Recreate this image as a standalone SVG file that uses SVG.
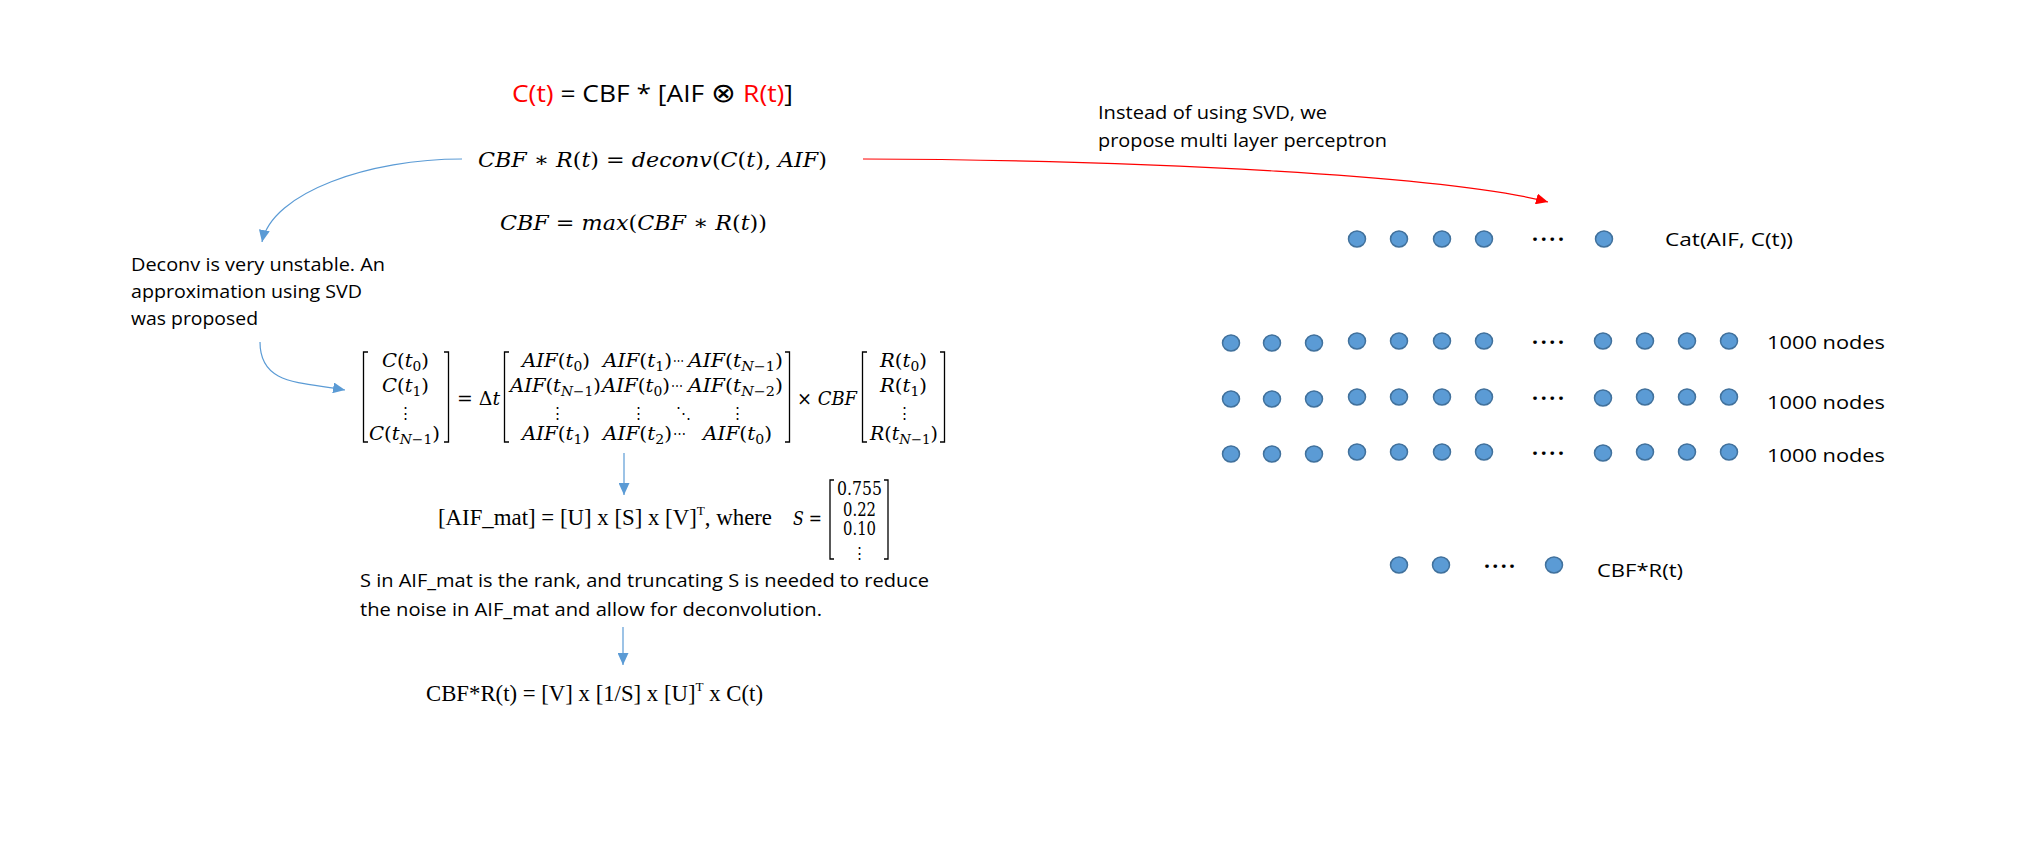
<svg xmlns="http://www.w3.org/2000/svg" width="2025" height="859" viewBox="0 0 2025 859">
<style>
.sans{font-family:"Open Sans","Liberation Sans",sans-serif;font-size:18.5px;fill:#000}
.eq1{font-family:"Open Sans","Liberation Sans",sans-serif;font-size:24px;fill:#000}
.tm{font-family:"Liberation Serif","Times New Roman",serif;font-size:22.5px;fill:#000}
.m{font-family:"DejaVu Serif","Liberation Serif",serif;font-size:18.5px;fill:#000}
.big{font-size:21px}
.i{font-style:italic}
.s{font-size:13px}
.dots{font-family:"DejaVu Serif",serif;font-size:15px;fill:#000}
.ell{font-family:"Open Sans","Liberation Sans",sans-serif;font-size:21px;font-weight:bold;fill:#000}
.node{fill:#5B9BD5;stroke:#41719C;stroke-width:1.5}
.br{fill:none;stroke:#000;stroke-width:1.3}
.cb{fill:none;stroke:#5B9BD5;stroke-width:1.2}
.cr{fill:none;stroke:#FF0000;stroke-width:1.2}
.red{fill:#FF0000}
</style>
<defs>
<marker id="ab" viewBox="0 0 12 11" refX="12" refY="5.5" markerWidth="12" markerHeight="11" markerUnits="userSpaceOnUse" orient="auto"><path d="M0,0 L12,5.5 L0,11 z" fill="#5B9BD5"/></marker>
<marker id="ar" viewBox="0 0 12 11" refX="12" refY="5.5" markerWidth="12" markerHeight="11" markerUnits="userSpaceOnUse" orient="auto"><path d="M0,0 L12,5.5 L0,11 z" fill="#FF0000"/></marker>
</defs>
<rect width="2025" height="859" fill="#fff"/>

<g id="connectors">
<path class="cb" d="M462,159 C370,159 272,192 262,242" marker-end="url(#ab)"/>
<path class="cb" d="M260,342 C260,385 300,382 345,390" marker-end="url(#ab)"/>
<path class="cb" d="M624,453 L624,495" marker-end="url(#ab)"/>
<path class="cb" d="M623,627 L623,665" marker-end="url(#ab)"/>
<path class="cr" d="M863,159 C1150,160 1450,176 1548,202" marker-end="url(#ar)"/>
</g>

<g id="eq-convolution">
<text class="eq1" x="512" y="102" textLength="281" lengthAdjust="spacingAndGlyphs"><tspan class="red">C(t)</tspan> = CBF * [AIF <tspan font-family="DejaVu Sans ExtraLight, DejaVu Sans" font-weight="200" font-size="27">⊗</tspan> <tspan class="red">R(t)</tspan>]</text>
</g>

<g id="eq-deconv">
<text class="m big" x="478" y="167" textLength="349" lengthAdjust="spacingAndGlyphs"><tspan class="i">CBF</tspan> ∗ <tspan class="i">R</tspan>(<tspan class="i">t</tspan>) = <tspan class="i">deconv</tspan>(<tspan class="i">C</tspan>(<tspan class="i">t</tspan>), <tspan class="i">AIF</tspan>)</text>
</g>

<g id="eq-max">
<text class="m big" x="500" y="230" textLength="267" lengthAdjust="spacingAndGlyphs"><tspan class="i">CBF</tspan> = <tspan class="i">max</tspan>(<tspan class="i">CBF</tspan> ∗ <tspan class="i">R</tspan>(<tspan class="i">t</tspan>))</text>
</g>

<g id="note-deconv">
<text class="sans" x="131" y="271" textLength="254" lengthAdjust="spacingAndGlyphs">Deconv is very unstable. An</text>
<text class="sans" x="131" y="298" textLength="231" lengthAdjust="spacingAndGlyphs">approximation using SVD</text>
<text class="sans" x="131" y="325" textLength="127" lengthAdjust="spacingAndGlyphs">was proposed</text>
</g>

<g id="matrix-equation">
<path class="br" d="M368,352 H363.5 V442 H368"/>
<path class="br" d="M444,352 H448.5 V442 H444"/>
<path class="br" d="M509,352 H504.5 V442 H509"/>
<path class="br" d="M785,352 H789.5 V442 H785"/>
<path class="br" d="M867,352 H862.5 V442 H867"/>
<path class="br" d="M940,352 H944.5 V442 H940"/>
<text class="m" x="382" y="367" textLength="47" lengthAdjust="spacingAndGlyphs"><tspan class="i">C</tspan>(<tspan class="i">t</tspan><tspan class="s" dy="4">0</tspan><tspan dy="-4">)</tspan></text>
<text class="m" x="382" y="392" textLength="47" lengthAdjust="spacingAndGlyphs"><tspan class="i">C</tspan>(<tspan class="i">t</tspan><tspan class="s" dy="4">1</tspan><tspan dy="-4">)</tspan></text>
<text class="dots" x="405.5" y="418" text-anchor="middle">⋮</text>
<text class="m" x="369" y="440" textLength="71" lengthAdjust="spacingAndGlyphs"><tspan class="i">C</tspan>(<tspan class="i">t</tspan><tspan class="s i" dy="4">N</tspan><tspan class="s">−1</tspan><tspan dy="-4">)</tspan></text>
<text class="m" x="457" y="405" textLength="43" lengthAdjust="spacingAndGlyphs">= Δ<tspan class="i">t</tspan></text>

<text class="m" x="522" y="367" textLength="68" lengthAdjust="spacingAndGlyphs"><tspan class="i">AIF</tspan>(<tspan class="i">t</tspan><tspan class="s" dy="4">0</tspan><tspan dy="-4">)</tspan></text>
<text class="m" x="603" y="367" textLength="69" lengthAdjust="spacingAndGlyphs"><tspan class="i">AIF</tspan>(<tspan class="i">t</tspan><tspan class="s" dy="4">1</tspan><tspan dy="-4">)</tspan></text>
<text class="m" x="673" y="367" textLength="11" lengthAdjust="spacingAndGlyphs">⋯</text>
<text class="m" x="688" y="367" textLength="95" lengthAdjust="spacingAndGlyphs"><tspan class="i">AIF</tspan>(<tspan class="i">t</tspan><tspan class="s i" dy="4">N</tspan><tspan class="s">−1</tspan><tspan dy="-4">)</tspan></text>

<text class="m" x="510" y="392" textLength="91" lengthAdjust="spacingAndGlyphs"><tspan class="i">AIF</tspan>(<tspan class="i">t</tspan><tspan class="s i" dy="4">N</tspan><tspan class="s">−1</tspan><tspan dy="-4">)</tspan></text>
<text class="m" x="602" y="392" textLength="68" lengthAdjust="spacingAndGlyphs"><tspan class="i">AIF</tspan>(<tspan class="i">t</tspan><tspan class="s" dy="4">0</tspan><tspan dy="-4">)</tspan></text>
<text class="m" x="671" y="392" textLength="12" lengthAdjust="spacingAndGlyphs">⋯</text>
<text class="m" x="688" y="392" textLength="95" lengthAdjust="spacingAndGlyphs"><tspan class="i">AIF</tspan>(<tspan class="i">t</tspan><tspan class="s i" dy="4">N</tspan><tspan class="s">−2</tspan><tspan dy="-4">)</tspan></text>

<text class="dots" x="557" y="418" text-anchor="middle">⋮</text>
<text class="dots" x="638" y="418" text-anchor="middle">⋮</text>
<text class="dots" x="683" y="418" text-anchor="middle">⋱</text>
<text class="dots" x="737" y="418" text-anchor="middle">⋮</text>

<text class="m" x="522" y="440" textLength="68" lengthAdjust="spacingAndGlyphs"><tspan class="i">AIF</tspan>(<tspan class="i">t</tspan><tspan class="s" dy="4">1</tspan><tspan dy="-4">)</tspan></text>
<text class="m" x="603" y="440" textLength="69" lengthAdjust="spacingAndGlyphs"><tspan class="i">AIF</tspan>(<tspan class="i">t</tspan><tspan class="s" dy="4">2</tspan><tspan dy="-4">)</tspan></text>
<text class="m" x="673" y="440" textLength="13" lengthAdjust="spacingAndGlyphs">⋯</text>
<text class="m" x="703" y="440" textLength="69" lengthAdjust="spacingAndGlyphs"><tspan class="i">AIF</tspan>(<tspan class="i">t</tspan><tspan class="s" dy="4">0</tspan><tspan dy="-4">)</tspan></text>

<text class="m" x="797" y="405" textLength="60" lengthAdjust="spacingAndGlyphs">× <tspan class="i">CBF</tspan></text>

<text class="m" x="880" y="367" textLength="47" lengthAdjust="spacingAndGlyphs"><tspan class="i">R</tspan>(<tspan class="i">t</tspan><tspan class="s" dy="4">0</tspan><tspan dy="-4">)</tspan></text>
<text class="m" x="880" y="392" textLength="47" lengthAdjust="spacingAndGlyphs"><tspan class="i">R</tspan>(<tspan class="i">t</tspan><tspan class="s" dy="4">1</tspan><tspan dy="-4">)</tspan></text>
<text class="dots" x="904" y="418" text-anchor="middle">⋮</text>
<text class="m" x="870" y="440" textLength="68" lengthAdjust="spacingAndGlyphs"><tspan class="i">R</tspan>(<tspan class="i">t</tspan><tspan class="s i" dy="4">N</tspan><tspan class="s">−1</tspan><tspan dy="-4">)</tspan></text>
</g>

<g id="svd-equation">
<text class="tm" x="438" y="525" textLength="334" lengthAdjust="spacingAndGlyphs">[AIF_mat] = [U] x [S] x [V]<tspan font-size="13" dy="-10">T</tspan><tspan dy="10">, where</tspan></text>
<text class="m" x="793" y="525" font-size="19" textLength="29" lengthAdjust="spacingAndGlyphs"><tspan class="i">S</tspan> =</text>
<path class="br" d="M834,480 H830 V559 H834"/>
<path class="br" d="M884,480 H888 V559 H884"/>
<text class="m" x="837" y="495" font-size="17" textLength="45" lengthAdjust="spacingAndGlyphs">0.755</text>
<text class="m" x="843" y="516" font-size="17" textLength="33" lengthAdjust="spacingAndGlyphs">0.22</text>
<text class="m" x="843" y="535" font-size="17" textLength="33" lengthAdjust="spacingAndGlyphs">0.10</text>
<text class="dots" x="859" y="558" font-size="13" text-anchor="middle">⋮</text>
</g>

<g id="note-truncation">
<text class="sans" x="360" y="587" textLength="569" lengthAdjust="spacingAndGlyphs">S in AIF_mat is the rank, and truncating S is needed to reduce</text>
<text class="sans" x="360" y="616" textLength="462" lengthAdjust="spacingAndGlyphs">the noise in AIF_mat and allow for deconvolution.</text>
</g>

<g id="eq-result">
<text class="tm" x="426" y="701" textLength="337" lengthAdjust="spacingAndGlyphs">CBF*R(t) = [V] x [1/S] x [U]<tspan font-size="13" dy="-10">T</tspan><tspan dy="10"> x C(t)</tspan></text>
</g>

<g id="note-mlp">
<text class="sans" x="1098" y="119" textLength="229" lengthAdjust="spacingAndGlyphs">Instead of using SVD, we</text>
<text class="sans" x="1098" y="147" textLength="289" lengthAdjust="spacingAndGlyphs">propose multi layer perceptron</text>
</g>

<g id="layer-input">
<g id="in1"><ellipse class="node" cx="1357" cy="239" rx="8.5" ry="8"/></g>
<g id="in2"><ellipse class="node" cx="1399" cy="239" rx="8.5" ry="8"/></g>
<g id="in3"><ellipse class="node" cx="1442" cy="239" rx="8.5" ry="8"/></g>
<g id="in4"><ellipse class="node" cx="1484" cy="239" rx="8.5" ry="8"/></g>
<text class="ell" x="1532" y="247" textLength="32" lengthAdjust="spacing">····</text>
<g id="in5"><ellipse class="node" cx="1604" cy="239" rx="8.5" ry="8"/></g>
<text class="sans" x="1665" y="246" textLength="128" lengthAdjust="spacingAndGlyphs">Cat(AIF, C(t))</text>
</g>

<g id="layer-h1">
<g id="h1n1"><ellipse class="node" cx="1231" cy="343" rx="8.5" ry="8"/></g>
<g id="h1n2"><ellipse class="node" cx="1272" cy="343" rx="8.5" ry="8"/></g>
<g id="h1n3"><ellipse class="node" cx="1314" cy="343" rx="8.5" ry="8"/></g>
<g id="h1n4"><ellipse class="node" cx="1357" cy="341" rx="8.5" ry="8"/></g>
<g id="h1n5"><ellipse class="node" cx="1399" cy="341" rx="8.5" ry="8"/></g>
<g id="h1n6"><ellipse class="node" cx="1442" cy="341" rx="8.5" ry="8"/></g>
<g id="h1n7"><ellipse class="node" cx="1484" cy="341" rx="8.5" ry="8"/></g>
<text class="ell" x="1532" y="350" textLength="32" lengthAdjust="spacing">····</text>
<g id="h1n8"><ellipse class="node" cx="1603" cy="341" rx="8.5" ry="8"/></g>
<g id="h1n9"><ellipse class="node" cx="1645" cy="341" rx="8.5" ry="8"/></g>
<g id="h1n10"><ellipse class="node" cx="1687" cy="341" rx="8.5" ry="8"/></g>
<g id="h1n11"><ellipse class="node" cx="1729" cy="341" rx="8.5" ry="8"/></g>
<text class="sans" x="1767" y="349" textLength="118" lengthAdjust="spacingAndGlyphs">1000 nodes</text>
</g>

<g id="layer-h2">
<g id="h2n1"><ellipse class="node" cx="1231" cy="399" rx="8.5" ry="8"/></g>
<g id="h2n2"><ellipse class="node" cx="1272" cy="399" rx="8.5" ry="8"/></g>
<g id="h2n3"><ellipse class="node" cx="1314" cy="399" rx="8.5" ry="8"/></g>
<g id="h2n4"><ellipse class="node" cx="1357" cy="397" rx="8.5" ry="8"/></g>
<g id="h2n5"><ellipse class="node" cx="1399" cy="397" rx="8.5" ry="8"/></g>
<g id="h2n6"><ellipse class="node" cx="1442" cy="397" rx="8.5" ry="8"/></g>
<g id="h2n7"><ellipse class="node" cx="1484" cy="397" rx="8.5" ry="8"/></g>
<text class="ell" x="1532" y="406" textLength="32" lengthAdjust="spacing">····</text>
<g id="h2n8"><ellipse class="node" cx="1603" cy="398" rx="8.5" ry="8"/></g>
<g id="h2n9"><ellipse class="node" cx="1645" cy="397" rx="8.5" ry="8"/></g>
<g id="h2n10"><ellipse class="node" cx="1687" cy="397" rx="8.5" ry="8"/></g>
<g id="h2n11"><ellipse class="node" cx="1729" cy="397" rx="8.5" ry="8"/></g>
<text class="sans" x="1767" y="409" textLength="118" lengthAdjust="spacingAndGlyphs">1000 nodes</text>
</g>

<g id="layer-h3">
<g id="h3n1"><ellipse class="node" cx="1231" cy="454" rx="8.5" ry="8"/></g>
<g id="h3n2"><ellipse class="node" cx="1272" cy="454" rx="8.5" ry="8"/></g>
<g id="h3n3"><ellipse class="node" cx="1314" cy="454" rx="8.5" ry="8"/></g>
<g id="h3n4"><ellipse class="node" cx="1357" cy="452" rx="8.5" ry="8"/></g>
<g id="h3n5"><ellipse class="node" cx="1399" cy="452" rx="8.5" ry="8"/></g>
<g id="h3n6"><ellipse class="node" cx="1442" cy="452" rx="8.5" ry="8"/></g>
<g id="h3n7"><ellipse class="node" cx="1484" cy="452" rx="8.5" ry="8"/></g>
<text class="ell" x="1532" y="461" textLength="32" lengthAdjust="spacing">····</text>
<g id="h3n8"><ellipse class="node" cx="1603" cy="453" rx="8.5" ry="8"/></g>
<g id="h3n9"><ellipse class="node" cx="1645" cy="452" rx="8.5" ry="8"/></g>
<g id="h3n10"><ellipse class="node" cx="1687" cy="452" rx="8.5" ry="8"/></g>
<g id="h3n11"><ellipse class="node" cx="1729" cy="452" rx="8.5" ry="8"/></g>
<text class="sans" x="1767" y="462" textLength="118" lengthAdjust="spacingAndGlyphs">1000 nodes</text>
</g>

<g id="layer-output">
<g id="out1"><ellipse class="node" cx="1399" cy="565" rx="8.5" ry="8"/></g>
<g id="out2"><ellipse class="node" cx="1441" cy="565" rx="8.5" ry="8"/></g>
<text class="ell" x="1484" y="574" textLength="31" lengthAdjust="spacing">····</text>
<g id="out3"><ellipse class="node" cx="1554" cy="565" rx="8.5" ry="8"/></g>
<text class="sans" x="1597" y="577" textLength="86" lengthAdjust="spacingAndGlyphs">CBF*R(t)</text>
</g>
</svg>
